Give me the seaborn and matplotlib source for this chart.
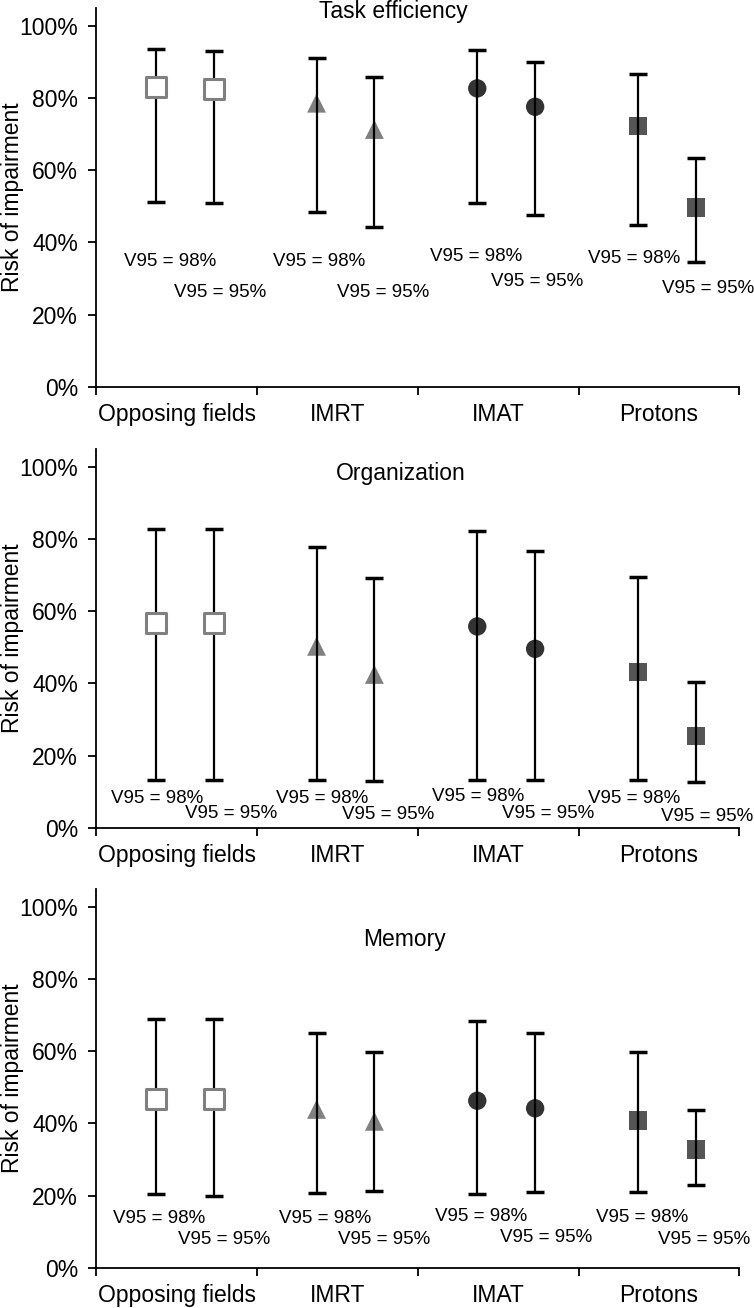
import numpy as np
import pandas as pd
import matplotlib
matplotlib.use("Agg")
import matplotlib.pyplot as plt
import seaborn as sns

# ---------------- data ----------------
methods = ["Opposing fields", "IMRT", "IMAT", "Protons"]
v95_labels = ["V95 = 98%", "V95 = 95%"]
panel_titles = ["Task efficiency", "Organization", "Memory"]
y_ticks = [0, 20, 40, 60, 80, 100]
y_tick_labels = ["0%", "20%", "40%", "60%", "80%", "100%"]
y_label = "Risk of impairment"

# order: for each method -> (V95=98%, V95=95%)
task_mid = [83.1, 82.6, 78.6, 71.3, 82.7, 77.6, 72.3, 49.7]
task_low = [51.2, 50.8, 48.5, 44.2, 51.0, 47.6, 44.8, 34.6]
task_high = [93.5, 93.1, 91.0, 85.9, 93.3, 90.0, 86.6, 63.3]

org_mid = [56.7, 56.7, 50.3, 42.5, 55.8, 49.6, 43.1, 25.4]
org_low = [13.2, 13.2, 13.2, 13.0, 13.2, 13.2, 13.2, 12.8]
org_high = [82.9, 82.9, 77.8, 69.2, 82.3, 76.8, 69.6, 40.5]

mem_mid = [46.8, 46.8, 43.9, 40.6, 46.3, 44.2, 40.8, 32.8]
mem_low = [20.4, 19.9, 20.6, 21.4, 20.4, 21.1, 21.1, 22.8]
mem_high = [69.0, 69.0, 65.0, 59.9, 68.4, 65.0, 59.7, 43.8]

panel_data = [
    (task_mid, task_low, task_high),
    (org_mid, org_low, org_high),
    (mem_mid, mem_low, mem_high),
]

# ---------------- layout / style (not data) ----------------
point_offsets = [-0.13, 0.23]          # offsets of the two points from group centre
# V95 label placements per panel: (x offset from group centre, y in %)
label_layout = [
    [(-0.04, 34.6), (0.27, 26.1), (-0.115, 34.6), (0.284, 26.1),
     (-0.138, 36.0), (0.241, 29.1), (-0.157, 35.6), (0.305, 27.3)],
    [(-0.119, 8.2), (0.338, 4.0), (-0.093, 8.2), (0.315, 3.6),
     (-0.126, 8.6), (0.312, 3.8), (-0.152, 8.2), (0.299, 3.2)],
    [(-0.106, 13.7), (0.298, 7.7), (-0.077, 13.7), (0.292, 7.7),
     (-0.109, 14.3), (0.299, 8.4), (-0.105, 14.0), (0.284, 7.9)],
]
title_layout = [(1.85, 104.0), (1.895, 98.3), (1.92, 91.1)]

marker_styles = {
    "Opposing fields": dict(marker="s", s=215, color="white", edgecolor="#808080", linewidth=2.2, zorder=4),
    "IMRT": dict(marker="^", s=185, color="#808080", edgecolor="none", linewidth=0, zorder=2),
    "IMAT": dict(marker="o", s=175, color="#333333", edgecolor="none", linewidth=0, zorder=2),
    "Protons": dict(marker="s", s=175, color="#555555", edgecolor="none", linewidth=0, zorder=2),
}

sns.set_theme(style="ticks")
plt.rcParams["font.family"] = ["Liberation Sans", "DejaVu Sans"]
plt.rcParams["text.color"] = "black"
plt.rcParams["axes.labelcolor"] = "black"
plt.rcParams["xtick.color"] = "black"
plt.rcParams["ytick.color"] = "black"
plt.rcParams["xtick.labelcolor"] = "black"
plt.rcParams["ytick.labelcolor"] = "black"

fig = plt.figure(figsize=(7.54, 13.08), dpi=100)
bottoms = [0.7044, 0.3672, 0.0308]
ax_left, ax_width, ax_height = 0.1277, 0.8528, 0.2895

for p, (mid, low, high) in enumerate(panel_data):
    ax = fig.add_axes([ax_left, bottoms[p], ax_width, ax_height])
    rows = []
    for i, m in enumerate(methods):
        for j, lab in enumerate(v95_labels):
            k = 2 * i + j
            rows.append(dict(method=m, v95=lab, x=i + 0.5 + point_offsets[j],
                             mid=mid[k], low=low[k], high=high[k]))
    df = pd.DataFrame(rows)

    ax.errorbar(df["x"], df["mid"], yerr=[df["mid"] - df["low"], df["high"] - df["mid"]],
                fmt="none", ecolor="black", elinewidth=1.6, capsize=6.5, capthick=2.5, zorder=3)

    for m in methods:
        sub = df[df["method"] == m]
        st = marker_styles[m]
        sns.scatterplot(data=sub, x="x", y="mid", ax=ax, marker=st["marker"], s=st["s"],
                        color=st["color"], edgecolor=st["edgecolor"], linewidth=st["linewidth"],
                        zorder=st["zorder"], legend=False)

    for k, (dx, yy) in enumerate(label_layout[p]):
        i, j = divmod(k, 2)
        ax.text(i + 0.5 + dx, yy, v95_labels[j], ha="center", va="center", fontsize=13.5, color="black")

    tx, ty = title_layout[p]
    ax.text(tx, ty, panel_titles[p], ha="center", va="center", fontsize=16.5, color="black",
            clip_on=False)

    ax.set_xlim(0, 4)
    ax.set_ylim(0, 105)
    ax.set_xticks([0, 1, 2, 3, 4])
    ax.set_xticklabels([])
    ax.set_xticks([0.5, 1.5, 2.5, 3.5], minor=True)
    ax.set_xticklabels(methods, minor=True, fontsize=16.5, color="black")
    ax.tick_params(axis="x", which="major", length=6, width=1.3, direction="out", color="black")
    ax.tick_params(axis="x", which="minor", length=0, pad=12)
    ax.set_yticks(y_ticks)
    ax.set_yticklabels(y_tick_labels, fontsize=16.5, color="black")
    ax.tick_params(axis="y", length=6, width=1.3, direction="out", color="black", pad=7)
    ax.set_xlabel("")
    ax.set_ylabel(y_label, fontsize=16.5, color="black")
    ax.yaxis.set_label_coords(-0.112, 0.5)
    for s in ["top", "right"]:
        ax.spines[s].set_visible(False)
    for s in ["left", "bottom"]:
        ax.spines[s].set_linewidth(1.3)
        ax.spines[s].set_color("black")
    ax.set_facecolor("white")

fig.savefig("out.png", dpi=100, facecolor="white")
